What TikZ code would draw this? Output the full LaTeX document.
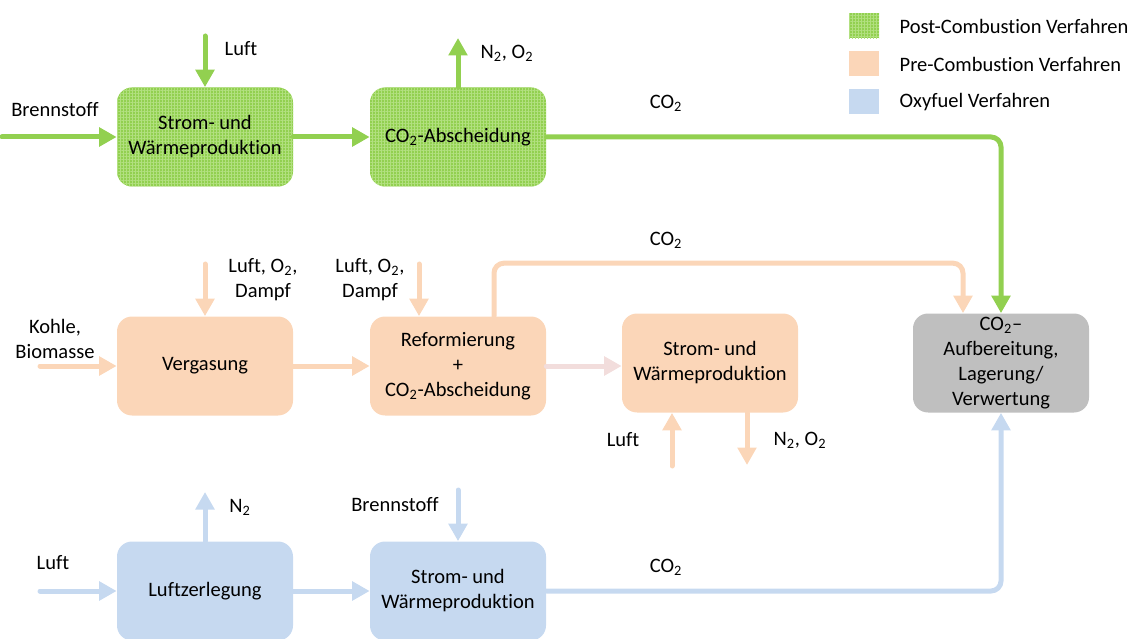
\documentclass[tikz,border=0pt]{standalone}
\usepackage{fontspec}
\setmainfont{Carlito}[Ligatures=NoCommon]
\usepackage{tikz}
\usetikzlibrary{calc,positioning,arrows.meta,patterns.meta}
\definecolor{postgreen}{RGB}{146,208,80}
\definecolor{postgrid}{RGB}{178,224,128}
\definecolor{preorange}{RGB}{251,214,184}
\definecolor{prepink}{RGB}{242,221,220}
\definecolor{oxyblue}{RGB}{198,217,240}
\definecolor{aufbgrey}{RGB}{191,191,191}
\tikzset{
  prozess/.style={
      rounded corners=9pt,
      minimum width=105.6pt,
      minimum height=59.4pt,
      align=center,
      inner sep=0pt,
  },
  post/.style={
      prozess,
      preaction={fill=postgreen},
      pattern={Hatch[angle=0,distance=1.8pt,line width=0.4pt]},
      pattern color=postgrid,
  },
  pre/.style={
      prozess,
      fill=preorange,
  },
  oxy/.style={
      prozess,
      fill=oxyblue,
  },
  aufb/.style={
      prozess,
      fill=aufbgrey,
  },
  strom/.style={
      line width=3pt,
      line cap=round,
      rounded corners=6pt,
      -{Triangle[length=10.5pt,width=11pt]},
  },
  poststrom/.style={strom, draw=postgreen},
  prestrom/.style={strom, draw=preorange},
  oxystrom/.style={strom, draw=oxyblue},
  legende/.style={
      minimum width=18pt,
      minimum height=15pt,
      inner sep=0pt,
  },
  legtext/.style={
      anchor=west,
      inner sep=0pt,
  }
}
\newcommand{\cozwei}{CO\textsubscript{2}}
\newcommand{\nozwei}{N\textsubscript{2}, O\textsubscript{2}}

\begin{document}
\begin{tikzpicture}[x=0.6pt,y=-0.6pt]
  \tikzstyle{every node}=[font=\fontsize{12.3}{15}\selectfont]
  \useasboundingbox (0,0) rectangle (1146,639);

  % Post-Combustion
  \node (STROM1) [post] at (205,137) {Strom- und\\Wärmeproduktion};
  \node (ABSCH)  [post] at (458,137) {\cozwei-Abscheidung};
  % Pre-Combustion
  \node (VERG)   [pre] at (205,366) {Vergasung};
  \node (REFORM) [pre] at (458,366) {Reformierung\\+\\\cozwei-Abscheidung};
  \node (STROM2) [pre] at (710,363) {Strom- und\\Wärmeproduktion};
  % Oxyfuel
  \node (ZERL)   [oxy] at (205,591) {Luftzerlegung};
  \node (STROM3) [oxy] at (458,591) {Strom- und\\Wärmeproduktion};
  % Ziel
  \node (AUFB)   [aufb] at (1001,363) {\cozwei--\\Aufbereitung,\\Lagerung/\\Verwertung};

  % Beschriftungen
  \node (BRENNL1) at (55,110) {Brennstoff};
  \node (LUFTL1) at (241,49) {Luft};
  \node (NOL1) at (507,53) {\nozwei};
  \node (COL1) at (666,103) {\cozwei};
  \node (KOHLEL) [align=center] at (55,339) {Kohle,\\Biomasse};
  \node (DAMPFL1) [align=center] at (263,280) {Luft, O\textsubscript{2},\\Dampf};
  \node (DAMPFL2) [align=center] at (370,280) {Luft, O\textsubscript{2},\\Dampf};
  \node (COL2) at (666,240) {\cozwei};
  \node (LUFTL2) at (623,440) {Luft};
  \node (NOL2) at (800,440) {\nozwei};
  \node (NL) at (240,507) {N\textsubscript{2}};
  \node (BRENNL2) at (395,505) {Brennstoff};
  \node (LUFTL3) at (53,563) {Luft};
  \node (COL3) at (666,567) {\cozwei};

  \coordinate (BRENN1) at (2,137);
  \coordinate (LUFT1) at (205,36);
  \coordinate (NO1) at (458,38);
  \coordinate (KOHLE) at (40,366);
  \coordinate (DAMPF1) at (205,264);
  \coordinate (DAMPF2) at (419,264);
  \coordinate (LUFT2) at (672,466);
  \coordinate (NO2) at (747,465);
  \coordinate (LUFT3) at (40,591);
  \coordinate (N3) at (205,492);
  \coordinate (BRENN3) at (458,490);

  % Post-Combustion Pfeile
  \draw[poststrom] (BRENN1) -- (STROM1);
  \draw[poststrom] (LUFT1) -- (STROM1);
  \draw[poststrom] (STROM1) -- (ABSCH);
  \draw[poststrom] (ABSCH) -- (NO1);
  \draw[poststrom] (ABSCH.east) -| (AUFB.north);

  % Pre-Combustion Pfeile
  \draw[prestrom] (KOHLE) -- (VERG);
  \draw[prestrom] (DAMPF1) -- (VERG);
  \draw[prestrom] (DAMPF2) -- (DAMPF2 |- REFORM.north);
  \draw[prestrom] (VERG) -- (REFORM);
  \draw[prestrom, draw=prepink] (REFORM.east) -- (REFORM.east -| STROM2.west);
  \draw[prestrom] ($(REFORM.north)+(36,0)$) -- ++(0,-53) -| ($(AUFB.north)+(-38,0)$);
  \draw[prestrom] (LUFT2) -- (LUFT2 |- STROM2.south);
  \draw[prestrom] (NO2 |- STROM2.south) -- (NO2);

  % Oxyfuel Pfeile
  \draw[oxystrom] (LUFT3) -- (ZERL);
  \draw[oxystrom] (ZERL) -- (N3);
  \draw[oxystrom] (BRENN3) -- (STROM3);
  \draw[oxystrom] (ZERL) -- (STROM3);
  \draw[oxystrom] (STROM3.east) -| (AUFB.south);

  % Legende
  \node (LEGPOST) [legende, post, rounded corners=0pt, minimum width=18pt, minimum height=15pt] at (864,26) {};
  \node (LEGPRE) [legende, fill=preorange] at (864,64) {};
  \node (LEGOXY) [legende, fill=oxyblue] at (864,102) {};
  \node (LEGPOSTT) [legtext, right=12pt of LEGPOST] {Post-Combustion Verfahren};
  \node (LEGPRET) [legtext, right=12pt of LEGPRE] {Pre-Combustion Verfahren};
  \node (LEGOXYT) [legtext, right=12pt of LEGOXY] {Oxyfuel Verfahren};
\end{tikzpicture}
\end{document}
